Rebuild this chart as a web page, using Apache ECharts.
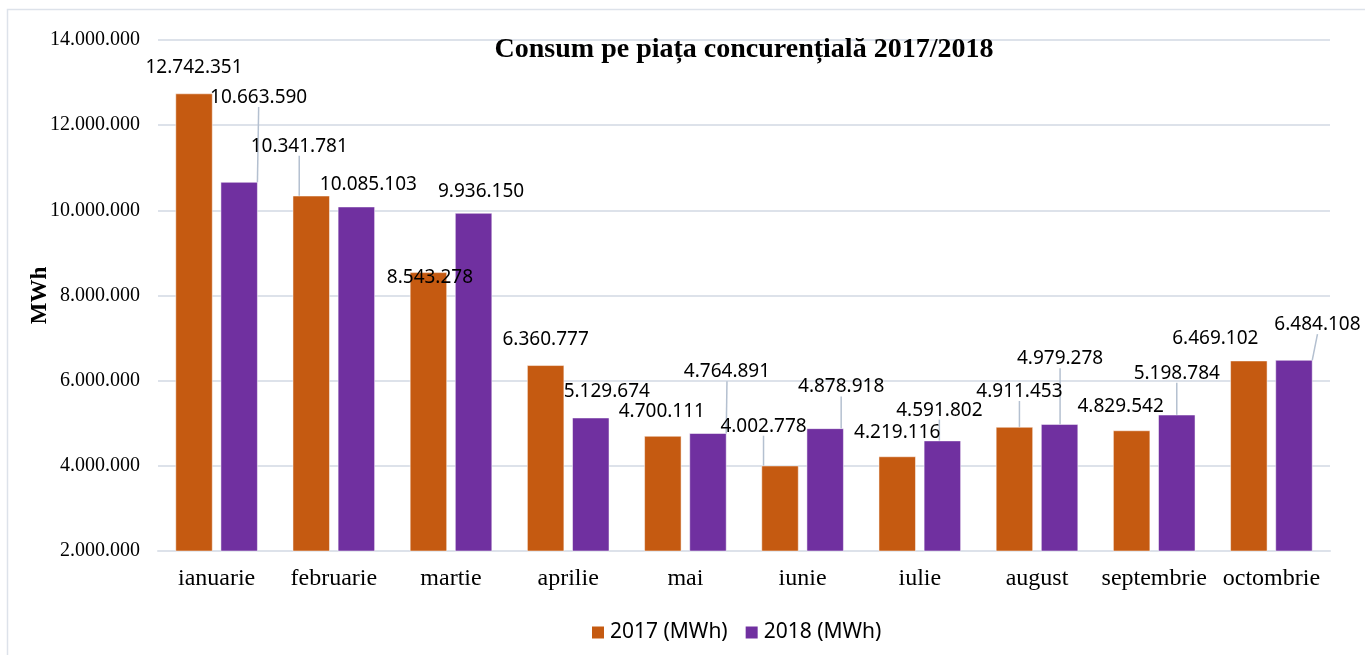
<!DOCTYPE html>
<html>
<head>
<meta charset="utf-8">
<script src="https://cdn.jsdelivr.net/npm/echarts@6/dist/echarts.min.js"></script>
<style>html,body{margin:0;padding:0;background:#fff}#c{width:1365px;height:655px}</style>
</head>
<body>
<div id="c"></div>
<script>
const categories = ['ianuarie','februarie','martie','aprilie','mai','iunie','iulie','august','septembrie','octombrie'];
const values2017 = [12742351,10341781,8543278,6360777,4700111,4002778,4219116,4911453,4829542,6469102];
const values2018 = [10663590,10085103,9936150,5129674,4764891,4878918,4591802,4979278,5198784,6484108];
const yTicks = [2000000,4000000,6000000,8000000,10000000,12000000,14000000];

// label offsets (dx, dy) from default top position and whether a leader line is drawn
const off2017 = [[0,-11],[-12,-35],[1.5,20],[0,-11],[-1,-10],[-16.5,-25],[0,-9],[5,-21],[-11,-9],[-33.5,-8]];
const off2018 = [[19.5,-70],[12,-8],[7.5,-7],[16,-12],[19,-47],[16,-27],[-3,-16],[0.5,-51],[0,-27],[23.5,-21]];
const line2017 = [false,true,false,false,false,true,false,true,false,false];
const line2018 = [true,false,false,false,true,true,true,true,true,true];

function fmt(v){ return String(v).replace(/\B(?=(\d{3})+(?!\d))/g,'.'); }

const chart = echarts.init(document.getElementById('c'));
const labelFont = {fontFamily:'Noto Sans', fontSize:19, color:'#000'};
function mkData(vals, lines){
  return vals.map((v,i)=>({value:v, labelLine:{show:lines[i]}}));
}
function mkSeries(name, vals, offs, lines, color){
  return {
    name, type:'bar', data: mkData(vals, lines),
    barWidth: 37, barGap:'22%',
    itemStyle:{color, borderColor:'#fff', borderWidth:0.5},
    label:{show:true, position:'top', distance:5, formatter:p=>fmt(p.value), ...labelFont},
    labelLine:{show:true, lineStyle:{color:'#B4C0D0', width:1.5}, minTurnAngle:0},
    labelLayout: p => ({dx: offs[p.dataIndex][0], dy: offs[p.dataIndex][1]}),
    emphasis:{disabled:true}
  };
}
chart.setOption({
  animation:false,
  backgroundColor:'#fff',
  graphic:[{type:'rect', shape:{x:7.5,y:9.5,width:1400,height:700}, style:{fill:'none', stroke:'#DDE2EA', lineWidth:1.5}, silent:true}],
  title:{text:'Consum pe piața concurențială 2017/2018', left:739, top:31, textAlign:'center',
    textStyle:{fontFamily:'Liberation Serif', fontWeight:'bold', fontSize:28, color:'#000'}},
  legend:{top:617, left:585, itemWidth:14, itemHeight:14, itemGap:16,
    icon:'rect', textStyle:{fontFamily:'Noto Sans', fontSize:21, color:'#000'},
    data:['2017 (MWh)','2018 (MWh)']},
  grid:{left:158, right:35, top:40, bottom:104},
  xAxis:{type:'category', data:categories,
    axisLine:{lineStyle:{color:'#DDE2EA', width:2}}, axisTick:{show:false},
    axisLabel:{interval:0, fontFamily:'Liberation Serif', fontSize:24, color:'#000', margin:16}},
  yAxis:{type:'value', min:yTicks[0], max:yTicks[yTicks.length-1], interval:2000000,
    name:'MWh', nameLocation:'middle', nameGap:106, nameMoveOverlap:false,
    nameTextStyle:{fontFamily:'Liberation Serif', fontWeight:'bold', fontSize:23, color:'#000'},
    axisLine:{show:false}, axisTick:{show:false},
    splitLine:{lineStyle:{color:'#DDE2EA', width:2}},
    axisLabel:{fontFamily:'Liberation Serif', fontSize:20, color:'#000', margin:18, formatter:v=>fmt(v)}},
  series:[
    mkSeries('2017 (MWh)', values2017, off2017, line2017, '#C55A11'),
    mkSeries('2018 (MWh)', values2018, off2018, line2018, '#7030A0')
  ]
});
</script>
</body>
</html>
